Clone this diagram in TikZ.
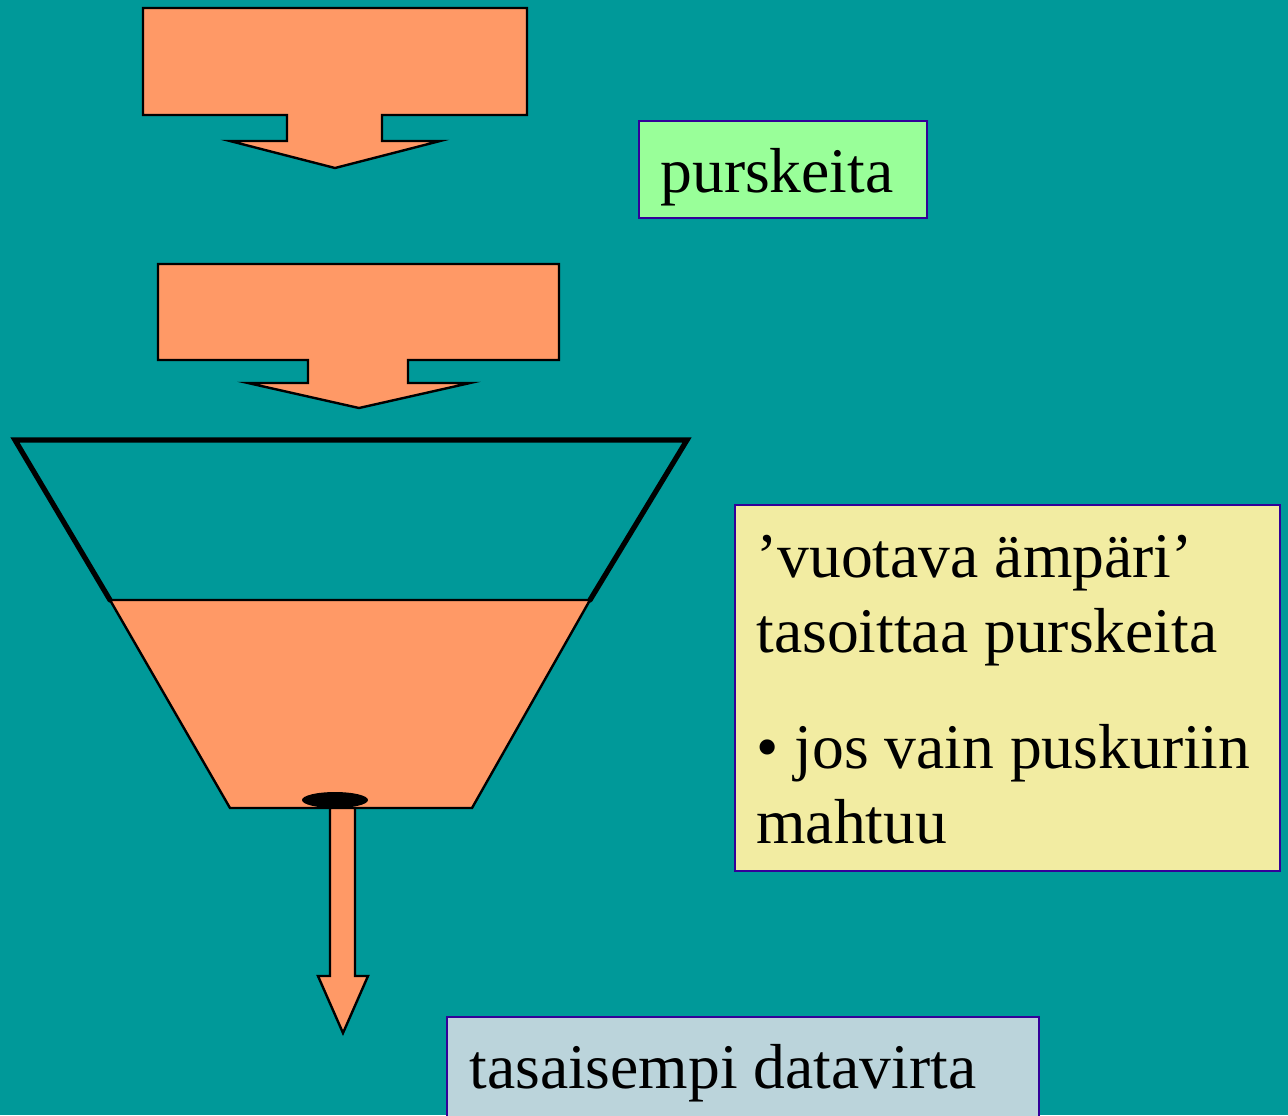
\documentclass[tikz,border=0pt]{standalone}
\usepackage{fontspec}
\setmainfont{Liberation Serif}
\begin{document}
\begin{tikzpicture}[x=0.5pt,y=-0.5pt,
  bgcol/.style={fill=teal0},
  blockarrow/.style={fill=salmon0,draw=black,line width=1.2pt,line join=miter},
  thickline/.style={draw=black,line width=2.6pt},
  tbox/.style={draw=boxblue,line width=1pt},
  txt/.style={anchor=base west,inner sep=0pt,font=\fontsize{31.8}{38}\selectfont}]
\definecolor{teal0}{HTML}{009999}
\definecolor{salmon0}{HTML}{FF9966}
\definecolor{boxblue}{HTML}{330099}
\definecolor{green0}{HTML}{99FF99}
\definecolor{yellow0}{HTML}{F2ECA2}
\definecolor{blue0}{HTML}{BBD4DB}
% background
\fill[teal0] (0,0) rectangle (1288,1115);
\useasboundingbox (0,0) rectangle (1288,1115);
% arrow 1
\draw[blockarrow] (143,8) -- (527,8) -- (527,115) -- (382,115) -- (382,141) -- (440,141)
  -- (335,168) -- (230,141) -- (287,141) -- (287,115) -- (143,115) -- cycle;
% arrow 2
\draw[blockarrow] (158,264) -- (559,264) -- (559,360) -- (408,360) -- (408,383) -- (470,383)
  -- (359,408) -- (248,383) -- (308,383) -- (308,360) -- (158,360) -- cycle;
% bucket liquid
\draw[blockarrow] (110,600) -- (590,600) -- (472,808) -- (230,808) -- cycle;
% bucket upper walls
\draw[thickline,line cap=round] (110,600) -- (15,440) -- (687,440) -- (590,600);
% hole
\fill[black] (335,800) ellipse [x radius=33, y radius=8];
% outflow arrow
\draw[blockarrow] (330,808) -- (355,808) -- (355,976) -- (368,976) -- (343,1033)
  -- (318,976) -- (330,976) -- cycle;
% boxes
\draw[tbox,fill=green0] (639,121) rectangle (927,218);
\node[txt] (t1) at (660,192) {purskeita};
\draw[tbox,fill=yellow0] (735,505) rectangle (1280,871);
\node[txt] (t2) at (756,577) {’vuotava ämpäri’};
\node[txt] (t3) at (756,652) {tasoittaa purskeita};
\node[txt] (t4) at (756,768) {• jos vain puskuriin};
\node[txt] (t5) at (756,843) {mahtuu};
\draw[tbox,fill=blue0] (447,1017) rectangle (1039,1130);
\node[txt] (t6) at (469,1088) {tasaisempi datavirta};
\end{tikzpicture}
\end{document}
